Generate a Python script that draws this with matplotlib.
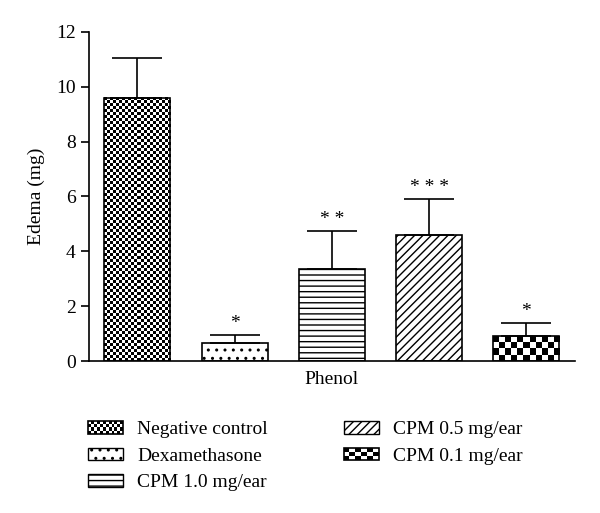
import numpy as np
import matplotlib
matplotlib.use("Agg")
from matplotlib import pyplot as plt
from matplotlib.patches import Rectangle, Patch
from matplotlib.legend_handler import HandlerBase

plt.rcParams['font.family'] = ['Liberation Serif', 'DejaVu Serif']
plt.rcParams['hatch.linewidth'] = 1.0

# datos
grupos = ["Negative control", "Dexamethasone", "CPM 1.0 mg/ear", "CPM 0.5 mg/ear", "CPM 0.1 mg/ear"]
medias = [9.6, 0.65, 3.35, 4.6, 0.9]
errores = [1.45, 0.3, 1.4, 1.3, 0.5]
signif = ["", "*", "**", "***", "*"]


class Tablero(HandlerBase):
    # dibuja un tablero de ajedrez en la leyenda
    def __init__(self, nx, ny):
        super().__init__()
        self.nx = nx
        self.ny = ny

    def create_artists(self, legend, orig_handle, xdescent, ydescent, width, height, fontsize, trans):
        arts = []
        cw = width / self.nx
        ch = height / self.ny
        for i in range(self.nx):
            for j in range(self.ny):
                if (i + j) % 2 == 0:
                    arts.append(Rectangle((-xdescent + i*cw, -ydescent + j*ch), cw, ch,
                                          fc="black", lw=0, transform=trans))
        arts.append(Rectangle((-xdescent, -ydescent), width, height, fc="none",
                              ec="black", lw=1.2, transform=trans))
        return arts


def tablero(nx, ny):
    return np.indices((ny, nx)).sum(axis=0) % 2


fig = plt.figure(figsize=(6, 5.13), dpi=100)
ax = fig.add_axes([0.148, 0.296, 0.81, 0.642])

x = np.arange(len(grupos))
ancho = 0.68
hatches = [None, "..", "---", "////", None]
caras = ["none", "white", "white", "white", "none"]
barras = ax.bar(x, medias, ancho, color=caras, edgecolor="black", linewidth=1.2, zorder=2)
for b, h in zip(barras, hatches):
    if h is not None:
        b.set_hatch(h)

# texturas de tablero
for i, (nx, ny) in [(0, (22, 88)), (4, (11, 4))]:
    x0 = x[i] - ancho/2
    ax.imshow(tablero(nx, ny), cmap="gray", extent=(x0, x0 + ancho, 0, medias[i]),
              aspect="auto", interpolation="nearest", zorder=1)

ax.errorbar(x, medias, yerr=[np.zeros(len(x)), errores], fmt="none", ecolor="black",
            elinewidth=1.2, capsize=18, capthick=1.2, zorder=3)
for xi, m, e, s in zip(x, medias, errores, signif):
    if s:
        ax.text(xi, m + e + 0.1, " ".join(s), ha="center", va="bottom", fontsize=14)

ax.set_xlim(-0.5, 4.5)
ax.set_ylim(0, 12)
ax.set_yticks(np.arange(0, 13, 2))
ax.set_xticks([2])
ax.set_xticklabels(["Phenol"], fontsize=14)
ax.tick_params(axis="x", length=0, pad=7)
ax.tick_params(axis="y", labelsize=14, length=6, width=1.2, direction="out")
ax.set_ylabel("Edema (mg)", fontsize=14, labelpad=8)
for lado in ["top", "right"]:
    ax.spines[lado].set_visible(False)
ax.spines["left"].set_linewidth(1.2)
ax.spines["bottom"].set_linewidth(1.2)

handles = [Patch(fc="white", ec="black"),
           Patch(fc="white", ec="black", hatch=".."),
           Patch(fc="white", ec="black", hatch="---"),
           Patch(fc="white", ec="black", hatch="////"),
           Patch(fc="white", ec="black")]
leg = fig.legend(handles, grupos, loc="upper left", bbox_to_anchor=(0.147, 0.179), ncol=2,
                 frameon=False, fontsize=14, handlelength=1.8, handleheight=0.62,
                 labelspacing=0.48, columnspacing=3.9, handletextpad=0.72, borderpad=0,
                 borderaxespad=0,
                 handler_map={handles[0]: Tablero(12, 4), handles[4]: Tablero(6, 3)})

fig.savefig("out.png", dpi=100)
